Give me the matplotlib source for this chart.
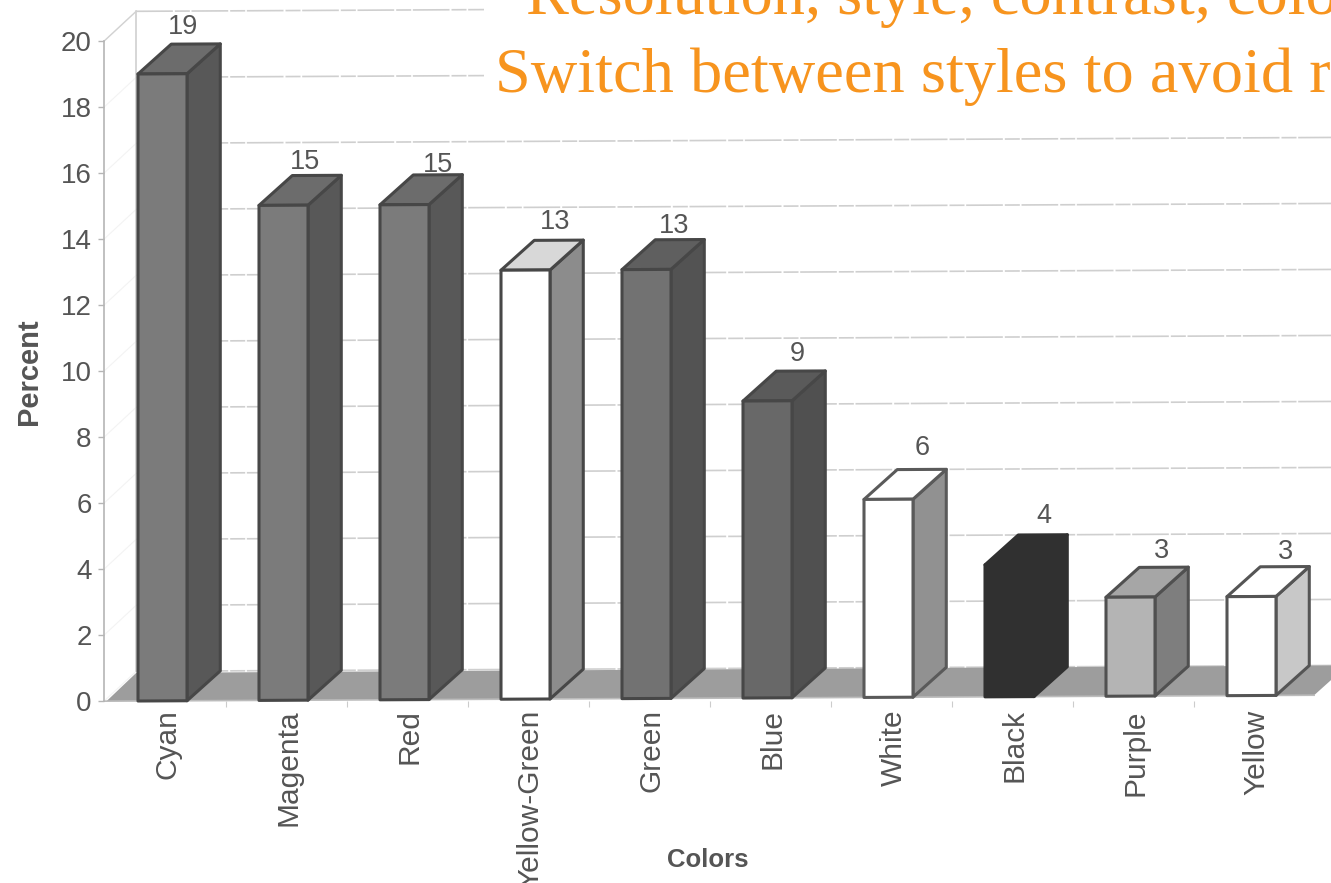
import matplotlib
matplotlib.use("Agg")
import matplotlib.pyplot as plt
from matplotlib.patches import Polygon, Rectangle
from matplotlib.transforms import Affine2D

# Survey results
colors = ["Cyan", "Magenta", "Red", "Yellow-Green", "Green",
          "Blue", "White", "Black", "Purple", "Yellow"]
percent = [19, 15, 15, 13, 13, 9, 6, 4, 3, 3]
y_ticks = [0, 2, 4, 6, 8, 10, 12, 14, 16, 18, 20]

# Grey shades of each column: front, side, top
front_shades = ["#7b7b7b", "#7b7b7b", "#7b7b7b", "#ffffff", "#727272",
                "#686868", "#ffffff", "#303030", "#b4b4b4", "#ffffff"]
side_shades = ["#585858", "#585858", "#585858", "#8c8c8c", "#535353",
               "#505050", "#919191", "#303030", "#7e7e7e", "#c8c8c8"]
top_shades = ["#6c6c6c", "#6c6c6c", "#6c6c6c", "#d8d8d8", "#5f5f5f",
              "#5a5a5a", "#ffffff", "#303030", "#a6a6a6", "#ffffff"]
edge_shades = ["#474747"] * 6 + ["#5a5a5a", "#303030", "#505050", "#555555"]

# Small hand placement of the value labels, in category and percent units
label_dx = [-0.05, -0.04, 0.06, 0.03, 0.01, 0.03, 0.06, 0.07, 0.04, 0.06]
label_dy = [0.05, -0.07, -0.18, 0.07, -0.08, 0.03, 0.18, 0.1, 0.0, -0.05]

BAR_W = 0.405
DEPTH_X = 0.275
DEPTH_Y = 0.90
SLOPE = 0.0180
INK = "#555555"
ORANGE = "#F7941E"

W, H = 1331, 883
fig = plt.figure(figsize=(W / 100, H / 100), dpi=100, facecolor="white")
ax = fig.add_axes([104 / W, 1 - 701 / H, (W - 104) / W, 660 / H])
ax.set_xlim((104 - 138) / 121, (W - 138) / 121)
ax.set_ylim(0, 20)
ax.set_facecolor("none")

# The whole plot leans slightly: the baseline rises towards the right
lean = Affine2D.from_values(1, SLOPE, 0, 1, 0, 0) + ax.transData

# Floor
floor_left, floor_right = -0.26, 9.72
ax.add_patch(Polygon(
    [(floor_left, 0), (floor_left + DEPTH_X - 0.03, DEPTH_Y - 0.05),
     (floor_right + DEPTH_X, DEPTH_Y), (floor_right, 0)],
    closed=True, facecolor="#9d9d9d", edgecolor="none",
    transform=lean, zorder=1, clip_on=False))

# Back wall and its gridlines
wall_x = floor_left + DEPTH_X - 0.03
for t in y_ticks:
    ax.plot([wall_x, 10.2], [t + DEPTH_Y, t + DEPTH_Y], color="#cfcfcf",
            lw=1.2, ls=(0, (22, 1.2, 9, 1)), transform=lean, zorder=0.5,
            clip_on=False)
    ax.plot([-0.281, wall_x], [t, t + DEPTH_Y], color="#f3f3f3", lw=0.8,
            transform=lean, zorder=0.4, clip_on=False)
ax.plot([wall_x, wall_x], [DEPTH_Y, 20 + DEPTH_Y], color="#cccccc", lw=1.1,
        transform=lean, zorder=0.6, clip_on=False)
ax.plot([-0.281, wall_x], [20, 20 + DEPTH_Y], color="#d2d2d2", lw=1.0,
        transform=lean, zorder=0.6, clip_on=False)
ax.plot([-0.281, 9.72], [0, 0], color="#bcbcbc", lw=1.2,
        transform=lean, zorder=1.1, clip_on=False)

# Columns
for i, v in enumerate(percent):
    x0, x1 = i, i + BAR_W
    style = dict(edgecolor=edge_shades[i], lw=2.2, joinstyle="round",
                 transform=lean, zorder=3 + i * 0.1, clip_on=False)
    ax.add_patch(Polygon([(x1, 0), (x1 + DEPTH_X, DEPTH_Y),
                          (x1 + DEPTH_X, v + DEPTH_Y), (x1, v)],
                         facecolor=side_shades[i], **style))
    ax.add_patch(Polygon([(x0, v), (x1, v), (x1 + DEPTH_X, v + DEPTH_Y),
                          (x0 + DEPTH_X, v + DEPTH_Y)],
                         facecolor=top_shades[i], **style))
    ax.add_patch(Polygon([(x0, 0), (x1, 0), (x1, v), (x0, v)],
                         facecolor=front_shades[i], **style))
    ax.text(x0 + 0.42 + label_dx[i], v + DEPTH_Y + 0.48 + label_dy[i], str(v),
            ha="center", va="center", fontsize=19.5,
            family="Liberation Sans", color=INK, transform=lean, zorder=6)

# Axes furniture
for side in ("top", "right", "bottom"):
    ax.spines[side].set_visible(False)
ax.spines["left"].set_color("#b5b5b5")
ax.spines["left"].set_linewidth(1.2)
ax.set_yticks(y_ticks)
ax.tick_params(axis="y", length=4, width=1, color="#b5b5b5", pad=5,
               labelsize=20, labelcolor=INK)
ax.set_xticks([i + 0.245 for i in range(len(colors))])
ax.set_xticklabels(colors, rotation=90, ha="center", va="top",
                   fontsize=21.5, color=INK)
ax.set_xticks([i - 0.27 for i in range(1, len(colors))], minor=True)
ax.tick_params(axis="x", which="major", length=0, pad=6)
ax.tick_params(axis="x", which="minor", length=4, width=0.8, color="#cccccc")
for lab in ax.get_xticklabels() + ax.get_yticklabels():
    lab.set_family("Liberation Sans")

fig.text(29 / W, 1 - 372 / H, "Percent", rotation=90, ha="center", va="center",
         fontsize=21, fontweight="bold", family="Liberation Sans", color=INK)
fig.text(708 / W, 1 - 860 / H, "Colors", ha="center", va="center",
         fontsize=18.5, fontweight="bold", family="Liberation Sans", color=INK)

# Panel of orange slide text overlapping the top of the plot
fig.add_artist(Rectangle((484 / W, 1 - 110 / H), 1 - 484 / W, 110 / H,
                         transform=fig.transFigure, facecolor="white",
                         edgecolor="none", zorder=8))
fig.text(526 / W, 1 - 14 / H, "Resolution, style, contrast, colo",
         ha="left", va="baseline", fontsize=46.4, family="Liberation Serif",
         color=ORANGE, zorder=9)
fig.text(495 / W, 1 - 92 / H, "Switch between styles to avoid r",
         ha="left", va="baseline", fontsize=46.4, family="Liberation Serif",
         color=ORANGE, zorder=9)

fig.savefig("out.png", dpi=100)
